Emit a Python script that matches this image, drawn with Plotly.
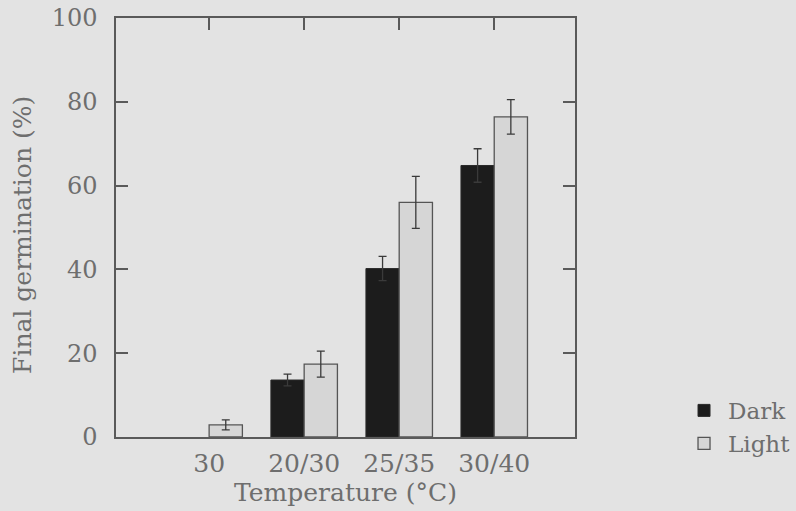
import plotly.graph_objects as go

categories = ["30", "20/30", "25/35", "30/40"]
dark_vals = [None, 13.6, 40.2, 64.8]
dark_err = [None, 1.4, 2.9, 4.0]
light_vals = [2.9, 17.4, 56.0, 76.4]
light_err = [1.2, 3.1, 6.2, 4.1]
y_ticks = [0, 20, 40, 60, 80, 100]

FONT = "DejaVu Serif"
TXT = "#6e6e6e"
BG = "#e3e3e3"
AX = "#5a5a5a"

fig = go.Figure()
fig.add_trace(go.Bar(
    name="Dark", x=categories, y=dark_vals,
    marker=dict(color="#1c1c1c", line=dict(color="#2a2a2a", width=1)),
    error_y=dict(type="data", array=dark_err, color="#3a3a3a", thickness=1.3, width=4),
))
fig.add_trace(go.Bar(
    name="Light", x=categories, y=light_vals,
    marker=dict(color="#d6d6d6", line=dict(color="#555555", width=1.3)),
    error_y=dict(type="data", array=light_err, color="#3a3a3a", thickness=1.3, width=4),
))
# helper trace for the top tick axis
fig.add_trace(go.Scatter(x=[0], y=[0], xaxis="x2", mode="markers",
                         marker=dict(opacity=0), showlegend=False, hoverinfo="skip"))

fig.update_layout(
    width=796, height=511,
    margin=dict(l=116, r=221, t=18, b=74, autoexpand=False),
    paper_bgcolor=BG, plot_bgcolor=BG,
    barmode="group", bargap=0.3, bargroupgap=0,
    font=dict(family=FONT, size=23, color=TXT),
    showlegend=True,
    legend=dict(x=1.2288, xanchor="left", y=0.024, yanchor="middle",
                bgcolor="rgba(0,0,0,0)",
                font=dict(family=FONT, size=23, color=TXT),
                itemwidth=38, tracegroupgap=0),
    xaxis=dict(
        type="category", range=[-0.98, 3.85],
        showline=True, linecolor=AX, linewidth=1.5, mirror=True,
        ticks="", showgrid=False, zeroline=False,
        tickfont=dict(size=25, color=TXT), ticklabelstandoff=3,
        title=dict(text="Temperature (°C)", standoff=0, font=dict(size=25, color=TXT)),
    ),
    xaxis2=dict(
        overlaying="x", side="top", range=[-0.98, 3.85],
        tickvals=[0, 1, 2, 3], showticklabels=False,
        ticks="inside", ticklen=12, tickwidth=1.5, tickcolor=AX,
        showgrid=False, zeroline=False, showline=False,
    ),
    yaxis=dict(
        range=[0, 100], tickvals=y_ticks,
        showline=True, linecolor=AX, linewidth=1.5, mirror="ticks",
        ticks="inside", ticklen=12, tickwidth=1.5, tickcolor=AX,
        showgrid=False, zeroline=False,
        tickfont=dict(size=24, color=TXT), ticklabelstandoff=12,
    ),
    annotations=[dict(
        text="Final germination (%)", textangle=-90,
        xref="paper", yref="paper", x=-0.205, y=0.482,
        xanchor="center", yanchor="middle", showarrow=False,
        font=dict(size=25, color=TXT),
    )],
)

fig.write_html("out.html")
